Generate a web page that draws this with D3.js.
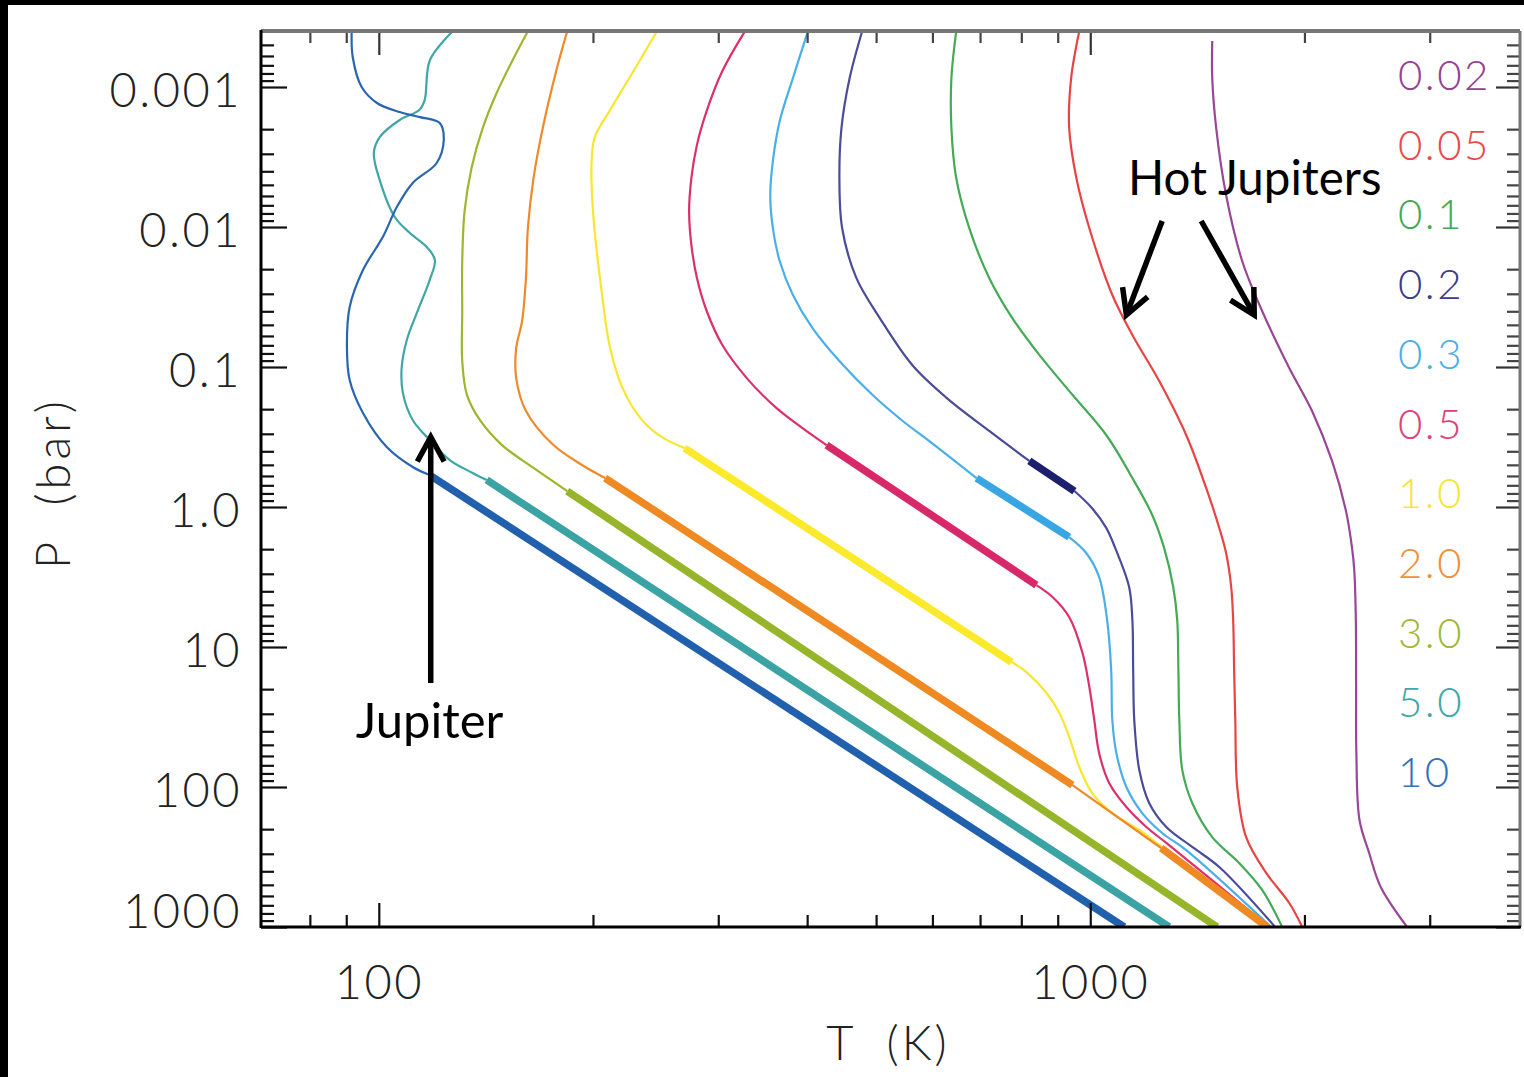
<!DOCTYPE html>
<html><head><meta charset="utf-8">
<script src="https://cdn.jsdelivr.net/npm/d3@7"></script>
<style>body{margin:0;background:#fff}svg{display:block}</style>
</head><body><svg id="c" width="1524" height="1077"></svg>
<script>
// ---- DATA (temperature K, pressure bar) ----
const series = ["0.02","0.05","0.1","0.2","0.3","0.5","1.0","2.0","3.0","5.0","10"];
const profile_0_02 = [[1484,4.69e-4],[1484,8.63e-4],[1503,1.96e-3],[1552,5.91e-3],[1635,0.0175],[1744,0.0398],[1904,0.1016],[2050,0.206],[2187,0.469],[2288,1.07],[2333,1.96],[2350,2.82],[2362,6.41],[2364,19.3],[2366,57.1],[2390,172],[2466,296],[2560,518],[2788,1000]];
const profile_0_05 = [[965,4.0e-4],[940,8.63e-4],[934,1.96e-3],[956,4.47e-3],[997,0.0102],[1074,0.0306],[1146,0.059],[1250,0.126],[1364,0.306],[1455,0.731],[1518,1.41],[1552,2.13],[1578,3.73],[1588,6.41],[1593,14.6],[1599,33.2],[1609,100],[1656,228],[1767,411],[1904,674],[1986,1000]];
const profile_0_1 = [[648,4.0e-4],[638,8.63e-4],[638,1.96e-3],[648,4.47e-3],[676,0.0102],[721,0.0231],[777,0.0447],[848,0.082],[944,0.158],[1053,0.306],[1146,0.621],[1222,1.14],[1270,1.96],[1308,3.73],[1325,6.41],[1330,14.6],[1334,33.2],[1347,75.7],[1391,130],[1484,228],[1619,349],[1744,544],[1861,1000]];
const profile_0_2 = [[478,4.0e-4],[459,8.63e-4],[447,1.96e-3],[444,4.47e-3],[448,0.0102],[469,0.0231],[506,0.0447],[562,0.0968],[628,0.166],[721,0.286],[821,0.469],[950,0.769],[1006,1.02],[1053,1.41],[1084,1.96],[1134,3.73],[1146,6.41],[1149,14.6],[1153,33.2],[1172,75.7],[1210,130],[1279,193],[1391,268],[1518,373],[1819,1000]];
const profile_0_3 = [[401,4.0e-4],[382,8.63e-4],[366,1.75e-3],[358,3.38e-3],[355,5.91e-3],[358,0.0102],[366,0.0175],[382,0.0306],[407,0.0527],[444,0.0906],[494,0.158],[545,0.243],[594,0.338],[692,0.621],[934,1.64],[987,2.13],[1029,3.16],[1056,6.41],[1070,14.6],[1074,33.2],[1088,57.1],[1124,100],[1183,153.5],[1262,213],[1364,282],[1796,1000]];
const profile_0_5 = [[327,4.0e-4],[304,7.69e-4],[289,1.48e-3],[280,2.59e-3],[275,4.47e-3],[273,7.69e-3],[275,0.0134],[280,0.0231],[289,0.0398],[304,0.0697],[329,0.12],[362,0.196],[394,0.273],[426,0.361],[840,3.61],[885,4.39],[934,6.11],[975,11.0],[997,19.3],[1013,33.2],[1029,57.1],[1063,93.6],[1124,139],[1199,193],[1279,251],[1784,1000]];
const profile_1_0 = [[246,4.0e-4],[225,8.63e-4],[211,1.48e-3],[201,2.31e-3],[199,3.79e-3],[200,7.69e-3],[202,0.0134],[206,0.0306],[211,0.0697],[220,0.141],[235,0.243],[251,0.321],[269,0.379],[775,12.8],[813,15.1],[868,21.3],[905,29.6],[934,43.9],[965,71.9],[1006,110.4],[1074,153.5],[1172,202.8],[1250,259.4],[1755,1000]];
const profile_2_0 = [[184,4.0e-4],[178,7.32e-4],[170,1.96e-3],[165,4.47e-3],[162,0.0102],[161,0.0231],[159,0.0469],[156,0.0731],[156,0.12],[161,0.206],[176,0.361],[193,0.501],[208,0.621],[944,96.8],[1258,272.7],[1773,1000]];
const profile_3_0 = [[162,4.0e-4],[154,6.52e-4],[146,1.14e-3],[140,1.96e-3],[135,3.79e-3],[132,7.69e-3],[131,0.0175],[131,0.0398],[131,0.0906],[133,0.158],[139,0.243],[149,0.361],[165,0.526],[184,0.769],[1508,1000]];
const profile_5_0 = [[127,4.0e-4],[118,6.41e-4],[116,1.24e-3],[114,1.46e-3],[107,1.72e-3],[100.3,2.28e-3],[98.4,2.96e-3],[100.3,4.62e-3],[105.3,8.48e-3],[110.5,0.011],[116.8,0.0139],[119.9,0.0172],[117.9,0.0239],[113.1,0.0411],[109.5,0.0641],[107.7,0.1],[108.1,0.153],[111.6,0.239],[117.9,0.332],[125.8,0.462],[135.5,0.571],[141.8,0.641],[1291,1000]];
const profile_10 = [[91.6,4.0e-4],[91.9,6.1e-4],[94.6,1.0e-3],[99.4,1.3e-3],[107,1.51e-3],[114.2,1.64e-3],[121.8,1.81e-3],[123.4,2.39e-3],[120.6,3.49e-3],[111.6,4.85e-3],[106,7.2e-3],[101.3,0.0118],[95,0.0203],[91,0.0373],[90.2,0.072],[91,0.124],[95,0.213],[102.6,0.373],[111.6,0.518],[117.9,0.591],[1116,1000]];
const profiles = [profile_0_02, profile_0_05, profile_0_1, profile_0_2, profile_0_3, profile_0_5, profile_1_0, profile_2_0, profile_3_0, profile_5_0, profile_10];
// convective (adiabatic) pressure ranges per series, drawn thick
const convectiveZones = [[],[],[],[[0.469,0.769]],[[0.621,1.64]],[[0.361,3.61]],[[0.379,12.8]],[[0.621,96.8],[272.7,1000]],[[0.769,1000]],[[0.641,1000]],[[0.591,1000]]];

const yMajor = [0.001,0.01,0.1,1,10,100,1000];
const yTickLabels = ["0.001","0.01","0.1","1.0","10","100","1000"];
const xMajor = [100,1000];
const xTickLabels = ["100","1000"];
const xMinor = [80,90,200,300,400,500,600,700,800,900,2000,3000];

// annotations (data coordinates)
const jupiterArrow = {from:[118.3,18.1], to:[118.3,0.316]};
const jupiterLabel = {text:"Jupiter", at:[92.8,44.7]};
const hotArrows = [{from:[1262,9.06e-3], to:[1124,0.0425]},{from:[1432,9.06e-3], to:[1700,0.0425]}];
const hotLabel = {text:"Hot Jupiters", at:[1130,5.91e-3]};

// ---- STYLE ----
const colors = ["#9a4696","#e84444","#44aa55","#4a4c98","#48b0e6","#dc2f6c","#f8e630","#ef8a2a","#9bb72e","#3ea6a6","#2a66b0"];
const thickColors = ["#9a4696","#e84444","#44aa55","#1c1f6e","#38a6e2","#d8286a","#fbe92c","#ef8a23","#97b52a","#3ba3a3","#2160ad"];
const legendColors = ["#934293","#e84a4a","#3faa52","#3a3c8c","#4ab0e8","#e0407a","#f6e63a","#f0903c","#a0b838","#40a8a8","#3472b8"];

const svg = d3.select("#c");
const L=261, R=1520, T=31, B=927;
const x = d3.scaleLog().domain([68.3, 4018]).range([L, R]);
const y = d3.scaleLog().domain([3.98e-4, 1000]).range([T, B]);

svg.append("rect").attr("width",1524).attr("height",1077).attr("fill","#fff");
svg.append("defs").append("clipPath").attr("id","clip").append("rect")
  .attr("x",L).attr("y",T).attr("width",R-L).attr("height",B-T);

const g = svg.append("g").attr("clip-path","url(#clip)");

function segments(pts, zones){
  const inZone=(a,b)=>zones.some(z=>a[1]>=z[0]*0.999 && b[1]<=z[1]*1.001);
  const segs=[]; let cur=null;
  for(let i=0;i<pts.length-1;i++){
    const type=inZone(pts[i],pts[i+1])?"thick":"thin";
    if(!cur||cur.type!==type){cur={type,pts:[pts[i]]};segs.push(cur);}
    cur.pts.push(pts[i+1]);
  }
  return segs;
}
const thinLine = d3.line().x(d=>x(d[0])).y(d=>y(d[1])).curve(d3.curveCatmullRom.alpha(0.5));
const thickLine = d3.line().x(d=>x(d[0])).y(d=>y(d[1]));

const allSegs = profiles.map((p,i)=>segments(p, convectiveZones[i]).map(s=>({...s, i})));
allSegs.forEach(ss=>ss.filter(s=>s.type==="thin").forEach(s=>{
  g.append("path").attr("d",thinLine(s.pts)).attr("fill","none")
   .attr("stroke",colors[s.i]).attr("stroke-width",2.2);
}));
allSegs.forEach(ss=>ss.filter(s=>s.type==="thick").forEach(s=>{
  g.append("path").attr("d",thickLine(s.pts)).attr("fill","none")
   .attr("stroke",thickColors[s.i]).attr("stroke-width",7.5).attr("stroke-linecap","butt");
}));

// ---- AXES ----
const yMinor=[];
for(let e=-4;e<3;e++) for(let k=2;k<=9;k++){const v=k*Math.pow(10,e); if(v>=4e-4 && v<1000) yMinor.push(v);}
const axStroke = s=>s.select(".domain").remove();
function ticks(gen, vals, size, tx, ty, col){
  svg.append("g").attr("transform",`translate(${tx},${ty})`)
    .call(gen.tickValues(vals).tickSize(size).tickFormat(""))
    .call(axStroke)
    .call(s=>s.selectAll("line").attr("stroke",col||"#111").attr("stroke-width",2.2));
}
ticks(d3.axisRight(y), yMinor, 13, L, 0);
ticks(d3.axisRight(y), yMajor, 26, L, 0);
ticks(d3.axisLeft(y), yMinor, 13, R, 0, "#444");
ticks(d3.axisLeft(y), yMajor, 24, R, 0, "#333");
ticks(d3.axisTop(x), xMinor, 12, 0, B);
ticks(d3.axisTop(x), xMajor, 24, 0, B);
ticks(d3.axisBottom(x), xMinor, 12, 0, T, "#444");
ticks(d3.axisBottom(x), xMajor, 24, 0, T, "#333");

// box
svg.append("line").attr("x1",L).attr("x2",R).attr("y1",T).attr("y2",T).attr("stroke","#777").attr("stroke-width",4);
svg.append("line").attr("x1",R).attr("x2",R).attr("y1",T).attr("y2",B).attr("stroke","#777").attr("stroke-width",3);
svg.append("line").attr("x1",L).attr("x2",L).attr("y1",T-1).attr("y2",B+1).attr("stroke","#000").attr("stroke-width",3);
svg.append("line").attr("x1",L).attr("x2",R+1).attr("y1",B).attr("y2",B).attr("stroke","#000").attr("stroke-width",3);

const labFont = "Lato, 'Open Sans', sans-serif";
// y labels
const yl = svg.append("g").attr("transform",`translate(${L},0)`)
  .call(d3.axisLeft(y).tickValues(yMajor).tickSize(0).tickPadding(19).tickFormat((d,i)=>yTickLabels[i]))
  .call(axStroke);
yl.selectAll("text").attr("font-family",labFont).attr("font-weight",300).attr("font-size",47)
  .attr("letter-spacing",2.5).attr("fill","#222").attr("dy",(d,i)=> i===yMajor.length-1 ? "0em" : "0.42em");
// x labels
const xl = svg.append("g").attr("transform",`translate(0,${B})`)
  .call(d3.axisBottom(x).tickValues(xMajor).tickSize(0).tickPadding(39).tickFormat((d,i)=>xTickLabels[i]))
  .call(axStroke);
xl.selectAll("text").attr("font-family",labFont).attr("font-weight",300).attr("font-size",47)
  .attr("letter-spacing",2.5).attr("fill","#222");

svg.append("text").attr("x",888).attr("y",1060).attr("text-anchor","middle")
  .attr("font-family",labFont).attr("font-weight",300).attr("font-size",47).attr("letter-spacing",3).attr("fill","#222")
  .attr("xml:space","preserve").text("T  (K)");
svg.append("text").attr("transform","translate(70,483) rotate(-90)").attr("text-anchor","middle")
  .attr("font-family",labFont).attr("font-weight",300).attr("font-size",47).attr("letter-spacing",4).attr("fill","#222")
  .attr("xml:space","preserve").text("P  (bar)");

// legend
series.forEach((s,i)=>{
  svg.append("text").attr("x",1398).attr("y",90+i*69.7)
    .attr("font-family",labFont).attr("font-weight",300).attr("font-size",42)
    .attr("letter-spacing",2.5).attr("fill",legendColors[i]).text(s);
});

// annotations
function arrow(a){
  const x1=x(a.from[0]), y1=y(a.from[1]), x2=x(a.to[0]), y2=y(a.to[1]);
  const ang=Math.atan2(y2-y1,x2-x1), len=28, sp=0.5;
  const gA=svg.append("g").attr("stroke","#000").attr("stroke-width",5.5).attr("fill","none").attr("stroke-linecap","butt");
  gA.append("line").attr("x1",x1).attr("y1",y1).attr("x2",x2-Math.cos(ang)*3).attr("y2",y2-Math.sin(ang)*3);
  gA.append("path").attr("stroke-linejoin","miter")
    .attr("d",`M${x2-len*Math.cos(ang-sp)},${y2-len*Math.sin(ang-sp)}L${x2},${y2}L${x2-len*Math.cos(ang+sp)},${y2-len*Math.sin(ang+sp)}`);
}
arrow(jupiterArrow);
hotArrows.forEach(arrow);
svg.append("text").attr("x",x(jupiterLabel.at[0])).attr("y",y(jupiterLabel.at[1]))
  .attr("font-family","Lato, sans-serif").attr("font-size",49).attr("fill","#000").text(jupiterLabel.text);
svg.append("text").attr("x",x(hotLabel.at[0])).attr("y",y(hotLabel.at[1]))
  .attr("font-family","Lato, sans-serif").attr("font-size",47.5).attr("fill","#000").text(hotLabel.text);

// slide frame
svg.append("rect").attr("x",0).attr("y",0).attr("width",8).attr("height",1077).attr("fill","#000");
svg.append("rect").attr("x",0).attr("y",0).attr("width",1524).attr("height",5).attr("fill","#000");
</script></body></html>
